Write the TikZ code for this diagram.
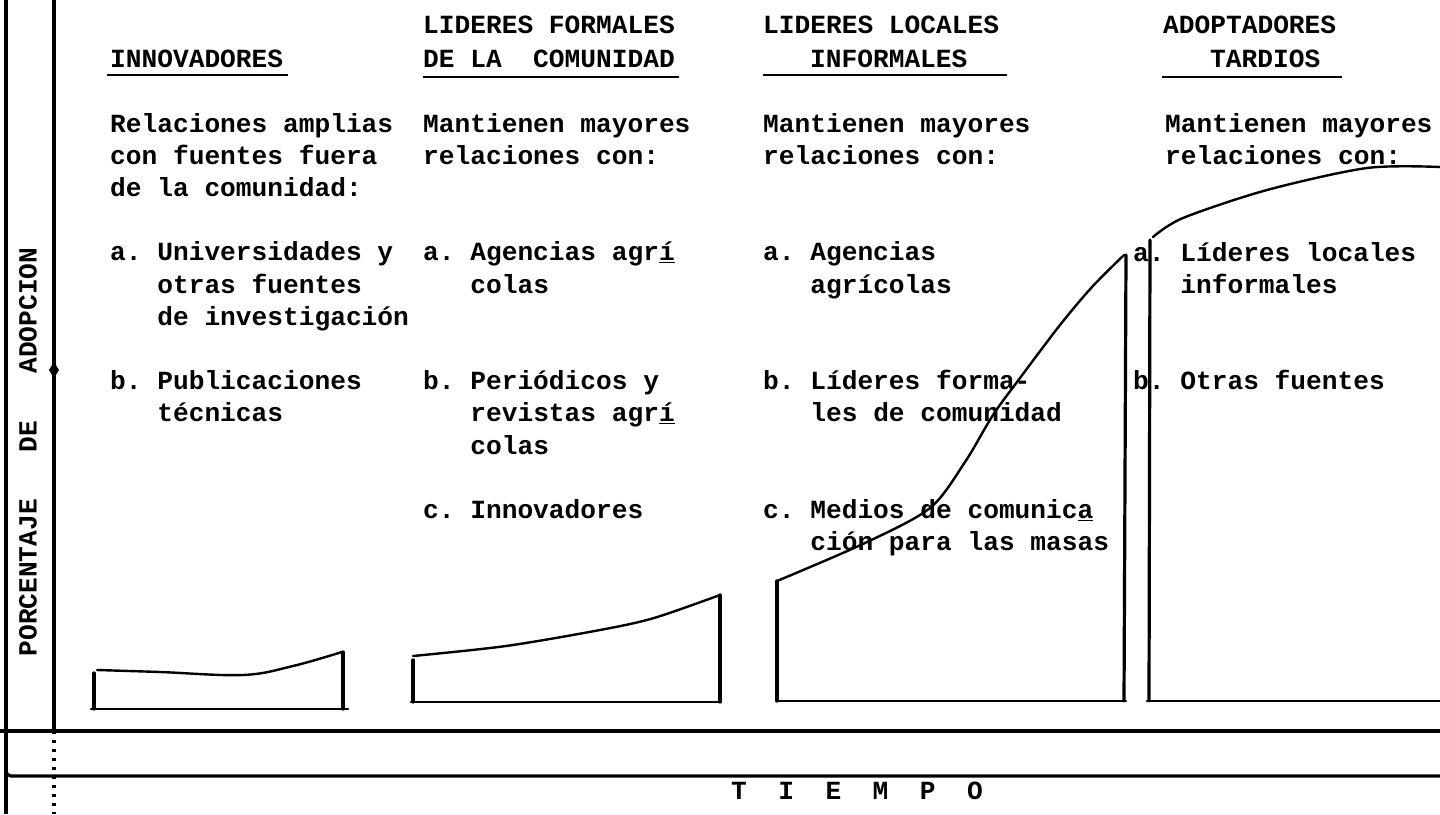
\documentclass[tikz,border=0pt]{standalone}
\usepackage{fontspec}
\newfontfamily\tw{Liberation Mono}[WordSpace={1,0,0},PunctuationSpace=WordSpace]
\usetikzlibrary{calc}
\newcommand\lines[1]{\begin{tabular}[t]{@{}l@{}}#1\end{tabular}}
\newcommand\ind{\hphantom{a.\ }}
\tikzset{
  typed/.style = {font=\tw\bfseries\fontsize{26.2}{32.2}\selectfont\frenchspacing,
                  inner sep=0pt, anchor=base west, text=black},
  axlab/.style = {typed, anchor=center, rotate=90},
  ink/.style   = {line width=2.4pt, line cap=round, line join=round},
  post/.style  = {line width=3.2pt, line cap=round},
  axis/.style  = {line width=3.2pt},
  uline/.style = {line width=2pt},
}
\begin{document}
\begin{tikzpicture}[x=1pt,y=-1pt]
  \fill[white] (0,0) rectangle (1440,814);
  \useasboundingbox (0,0) rectangle (1440,814);

  % axes
  \draw[axis] (6,0) -- (6,814);
  \draw[axis] (54,0) -- (54,731);
  \draw[axis, dash pattern=on 3pt off 6pt] (54,731) -- (54,814);
  \draw[axis] (0,731) -- (1440,731);
  \draw[axis, rounded corners=5pt] (6,766) -- (6,776) -- (1440,776);
  \fill (54,362) -- (59,370) -- (54,378) -- (49,370) -- cycle;
  \node[axlab] (eje) at (28,452) {PORCENTAJE\ \ \ DE\ \ \ ADOPCION};
  \node[typed, anchor=base] (tiempo) at (857,799) {T\ \ I\ \ E\ \ M\ \ P\ \ O};

  % headers
  \node[typed] (inn) at (110,67) {INNOVADORES};
  \node[typed] (forA) at (423,33) {LIDERES FORMALES};
  \node[typed] (forB) at (423,67) {DE LA\ \ COMUNIDAD};
  \node[typed] (locA) at (763,33) {LIDERES LOCALES};
  \node[typed] (locB) at (810,67) {INFORMALES};
  \node[typed] (adoA) at (1163,33) {ADOPTADORES};
  \node[typed] (adoB) at (1210,67) {TARDIOS};
  \draw[uline] ($(inn.base west)+(-3,8)$) -- ($(inn.base east)+(5,8)$);
  \draw[uline] ($(forB.base west)+(0,10)$) -- ($(forB.base east)+(4,10)$);
  \draw[uline] ($(locA.west |- locB.base)+(0,8)$) -- ($(locA.east |- locB.base)+(8,8)$);
  \draw[uline] ($(adoA.west |- adoB.base)+(-1,10)$) -- ($(adoA.east |- adoB.base)+(6,10)$);

  % columns
  \node[typed] (innT) at (110,132) {\lines{Relaciones amplias\\con fuentes fuera\\de la comunidad:\\ \\
    a. Universidades y\\\ind otras fuentes\\\ind de investigación\\ \\
    b. Publicaciones\\\ind técnicas}};
  \node[typed] (forT) at (423,132) {\lines{Mantienen mayores\\relaciones con:\\ \\ \\
    a. Agencias agr\underline{í}\\\ind colas\\ \\ \\
    b. Periódicos y\\\ind revistas agr\underline{í}\\\ind colas\\ \\
    c. Innovadores}};
  \node[typed] (locT) at (763,132) {\lines{Mantienen mayores\\relaciones con:\\ \\ \\
    a. Agencias\\\ind agrícolas\\ \\ \\
    b. Líderes forma-\\\ind les de comunidad\\ \\ \\
    c. Medios de comunic\underline{a}\\\ind ción para las masas}};
  \node[typed] (adoT) at (1165,132) {\lines{Mantienen mayores\\relaciones con:}};
  \node[typed] (adoI) at (1133,261) {\lines{a. Líderes locales\\\ind informales\\ \\ \\
    b. Otras fuentes}};

  % innovadores
  \draw[ink] plot[smooth, tension=0.6] coordinates {(97,670) (160,672) (243,675) (293,666) (342,652)};
  \draw[post] (94,673) -- (94,709);
  \draw[post] (343,652) -- (343,709);
  \draw[ink] (91,709) -- (348,709);
  % formales
  \draw[ink] plot[smooth] coordinates {(413,656) (506,646) (600,630) (654,618) (720,595)};
  \draw[post] (413,660) -- (413,702);
  \draw[post] (720,595) -- (720,702);
  \draw[ink] (411,702) -- (721,702);
  % locales
  \draw[ink] plot[smooth] coordinates {(777,581) (865,543) (930,508) (965,462) (993,415)
    (1020,378) (1060,325) (1092,287) (1124,255)};
  \draw[post] (777,581) -- (777,701);
  \draw[post] (1126,255) -- (1124,701);
  \draw[ink] (777,701) -- (1126,701);
  % tardios
  \draw[ink] plot[smooth] coordinates {(1153,237) (1183,218) (1267,190) (1367,168) (1440,167)};
  \draw[post] (1150,240) -- (1149,701);
  \draw[ink] (1147,701) -- (1440,701);
\end{tikzpicture}
\end{document}
